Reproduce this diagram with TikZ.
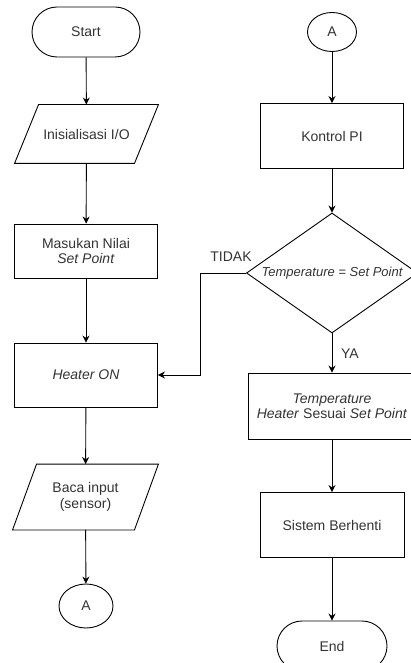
\documentclass[tikz,border=0pt]{standalone}
\usepackage{fontspec}
\setmainfont{Liberation Sans}
\usepackage{tikz}
\usetikzlibrary{positioning,shapes.geometric,shapes.misc,arrows.meta}

\begin{document}
\begin{tikzpicture}[x=1pt,y=-1pt,line width=0.9pt,>={Stealth[length=7pt,width=7pt]},
  every node/.style={text=black!80,font=\fontsize{14}{15.5}\selectfont,align=center,inner sep=0pt},
  box/.style={draw,minimum width=143pt,minimum height=65pt},
  io/.style={minimum width=143pt,append after command={\pgfextra{\draw
    ([xshift=24pt]\tikzlastnode.north west) -- (\tikzlastnode.north east)
    -- ([xshift=-24pt]\tikzlastnode.south east) -- (\tikzlastnode.south west) -- cycle;}}},
  term/.style={draw,rounded rectangle,minimum width=108pt,minimum height=50pt},
  conn/.style={draw,ellipse,minimum width=52pt,minimum height=42pt}]
\clip (0,0) rectangle (411,663);
\node [term] (S) at (86,32) {Start};
\node [io,minimum height=58pt] (1) at (86.5,134) {Inisialisasi I/O};
\node [box,minimum height=54pt] (2) at (86,251) {Masukan Nilai\\\textit{Set Point}};
\node [box,minimum height=64pt] (3) at (86,375) {\textit{Heater ON}};
\node [io,minimum width=145pt,minimum height=65pt] (4) at (85.5,497) {Baca input\\(sensor)};
\node [conn,minimum width=54pt,minimum height=44pt] (A1) at (86,606) {A};
\node [conn,minimum width=49pt,minimum height=39pt] (A2) at (332,32) {A};
\node [box] (5) at (332,136) {Kontrol PI};
\node [draw,diamond,aspect=2.5,minimum width=166pt,minimum height=120pt,font=\itshape\fontsize{13}{15}\selectfont] (D) at (332,273) {Temperature = Set Point};
\node [box,minimum width=167pt,minimum height=66pt] (6) at (332,406) {\textit{Temperature}\\\textit{Heater} Sesuai \textit{Set Point}};
\node [box,minimum width=144pt] (7) at (332,525) {Sistem Berhenti};
\node [term,minimum width=110pt] (E) at (332,646) {End};
\node (T) at (231,257) {TIDAK};
\node (Y) at (350,354) {YA};
\draw [->] (S) -- (1);
\draw [->] (1) -- (2);
\draw [->] (2) -- (3);
\draw [->] (3) -- (4);
\draw [->] (4) -- (A1);
\draw [->] (A2) -- (5);
\draw [->] (5) -- (D);
\draw [->] (D) -- (6);
\draw [->] (D.west) -- ++(-46,0) |- (3.east);
\draw [->] (6) -- (7);
\draw [->] (7) -- (E);
\end{tikzpicture}
\end{document}
